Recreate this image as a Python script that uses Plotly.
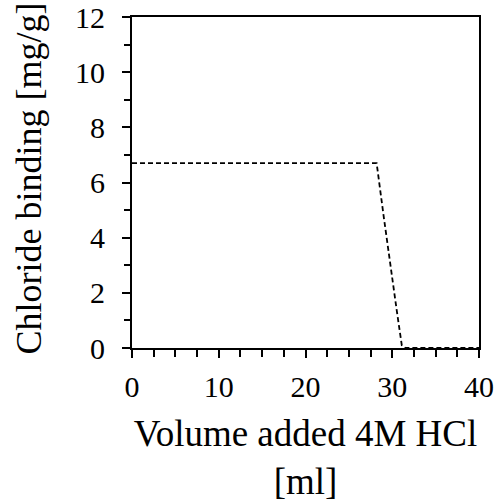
import plotly.graph_objects as go

volume_ml = [0, 28.2, 29.0, 29.8, 30.5, 31.1, 31.5, 40]
chloride_binding = [6.7, 6.7, 4.8, 2.9, 1.4, 0.1, 0.0, 0.0]

x_ticks = [0, 10, 20, 30, 40]
y_ticks = [0, 2, 4, 6, 8, 10, 12]

serif = "Liberation Serif"

fig = go.Figure()
fig.add_trace(go.Scatter(
    x=volume_ml, y=chloride_binding, mode="lines",
    line=dict(color="black", width=1.8, dash="5px,3px"),
    showlegend=False,
))

fig.update_layout(
    width=499, height=502,
    margin=dict(l=132, r=20, t=17, b=154),
    paper_bgcolor="white", plot_bgcolor="white",
    font=dict(family=serif, color="black", size=30),
)
fig.update_xaxes(
    range=[0, 40], tickvals=x_ticks, ticks="outside", ticklen=8, tickwidth=2,
    tickcolor="black", showline=True, linecolor="black", linewidth=2, mirror=True,
    showgrid=False, zeroline=False, ticklabelstandoff=3, automargin=False,
    minor=dict(dtick=2.5, ticks="outside", ticklen=7, tickwidth=2, tickcolor="black"),
    title=dict(text="Volume added 4M HCl<br>[ml]", font=dict(family=serif, size=37, color="black"), standoff=26),
    tickfont=dict(family=serif, size=30, color="black"),
)
fig.update_yaxes(
    range=[0, 12], tickvals=y_ticks, ticks="outside", ticklen=8, tickwidth=2,
    tickcolor="black", showline=True, linecolor="black", linewidth=2, mirror=True,
    showgrid=False, zeroline=False, ticklabelstandoff=11, automargin=False,
    minor=dict(dtick=1, ticks="outside", ticklen=6, tickwidth=2, tickcolor="black"),
    tickfont=dict(family=serif, size=30, color="black"),
)
fig.add_annotation(
    text="Chloride binding [mg/g]", textangle=-90, showarrow=False,
    xref="paper", yref="paper", x=0, y=0.5, xanchor="center", yanchor="middle",
    xshift=-104, yshift=4,
    font=dict(family=serif, size=36, color="black"),
)

fig.write_html("out.html")
